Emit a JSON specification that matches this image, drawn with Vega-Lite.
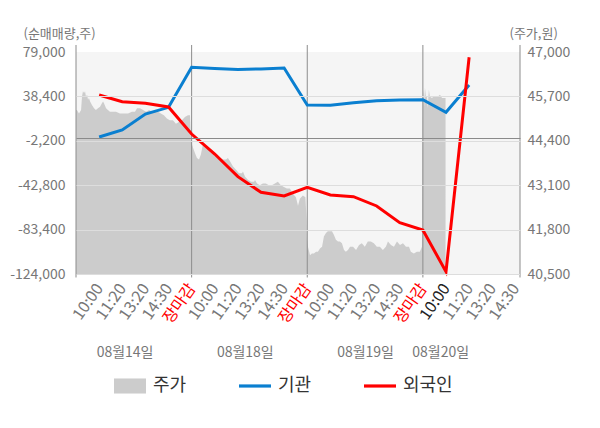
{
  "$schema": "https://vega.github.io/schema/vega-lite/v6.json",
  "width": 444,
  "height": 222,
  "autosize": "none",
  "padding": {"left": 76, "top": 52, "right": 80, "bottom": 154},
  "background": "white",
  "config": {
    "font": "Noto Sans CJK KR",
    "view": {"fill": "#f5f5f5", "stroke": null},
    "axis": {"labelFont": "Noto Sans CJK KR", "titleFont": "Noto Sans CJK KR"},
    "legend": {"labelFont": "Noto Sans CJK KR"}
  },
  "datasets": {
    "price": [
      {"t": 0, "p": 45300}, {"t": 0.04, "p": 45300}, {"t": 0.13, "p": 45200}, {"t": 0.22, "p": 45300},
      {"t": 0.26, "p": 45700}, {"t": 0.30, "p": 45850}, {"t": 0.35, "p": 45800}, {"t": 0.39, "p": 45850},
      {"t": 0.43, "p": 45700}, {"t": 0.48, "p": 45750}, {"t": 0.52, "p": 45600}, {"t": 0.56, "p": 45650},
      {"t": 0.61, "p": 45550}, {"t": 0.69, "p": 45450}, {"t": 0.78, "p": 45350}, {"t": 0.86, "p": 45300},
      {"t": 0.95, "p": 45350}, {"t": 1.04, "p": 45400}, {"t": 1.12, "p": 45500}, {"t": 1.17, "p": 45550},
      {"t": 1.21, "p": 45500}, {"t": 1.30, "p": 45350}, {"t": 1.38, "p": 45300}, {"t": 1.47, "p": 45250},
      {"t": 1.60, "p": 45250}, {"t": 1.73, "p": 45250}, {"t": 1.90, "p": 45200}, {"t": 2.08, "p": 45200},
      {"t": 2.25, "p": 45200}, {"t": 2.42, "p": 45250}, {"t": 2.55, "p": 45250}, {"t": 2.64, "p": 45350},
      {"t": 2.77, "p": 45350}, {"t": 2.90, "p": 45300}, {"t": 3.03, "p": 45250}, {"t": 3.16, "p": 45300},
      {"t": 3.29, "p": 45250}, {"t": 3.42, "p": 45250}, {"t": 3.55, "p": 45250}, {"t": 3.67, "p": 45200},
      {"t": 3.80, "p": 45150}, {"t": 3.93, "p": 45050}, {"t": 4.06, "p": 45000}, {"t": 4.19, "p": 45000},
      {"t": 4.32, "p": 44900}, {"t": 4.45, "p": 44950}, {"t": 4.58, "p": 45000}, {"t": 4.71, "p": 45100},
      {"t": 4.84, "p": 45150}, {"t": 4.93, "p": 45150},
      {"t": 4.97, "p": 44400}, {"t": 5.06, "p": 44200}, {"t": 5.14, "p": 44050}, {"t": 5.23, "p": 43900},
      {"t": 5.32, "p": 43850}, {"t": 5.40, "p": 44000}, {"t": 5.49, "p": 44300}, {"t": 5.58, "p": 44200},
      {"t": 5.71, "p": 44150}, {"t": 5.84, "p": 44100}, {"t": 5.97, "p": 44050}, {"t": 6.10, "p": 44000},
      {"t": 6.23, "p": 43900}, {"t": 6.36, "p": 43850}, {"t": 6.49, "p": 43850}, {"t": 6.57, "p": 43900},
      {"t": 6.66, "p": 43800}, {"t": 6.79, "p": 43650}, {"t": 6.92, "p": 43550}, {"t": 7.05, "p": 43450},
      {"t": 7.18, "p": 43450}, {"t": 7.22, "p": 43500}, {"t": 7.31, "p": 43350}, {"t": 7.44, "p": 43250},
      {"t": 7.57, "p": 43200}, {"t": 7.70, "p": 43200}, {"t": 7.74, "p": 43250}, {"t": 7.83, "p": 43150},
      {"t": 7.95, "p": 43100}, {"t": 8.08, "p": 43150}, {"t": 8.21, "p": 43150}, {"t": 8.34, "p": 43100},
      {"t": 8.47, "p": 43100}, {"t": 8.60, "p": 43150}, {"t": 8.73, "p": 43200}, {"t": 8.86, "p": 43100},
      {"t": 8.99, "p": 43050}, {"t": 9.12, "p": 43000}, {"t": 9.25, "p": 43000}, {"t": 9.38, "p": 42850},
      {"t": 9.51, "p": 42750}, {"t": 9.60, "p": 42500}, {"t": 9.68, "p": 42700}, {"t": 9.81, "p": 42800},
      {"t": 9.92, "p": 42750},
      {"t": 9.97, "p": 42100}, {"t": 9.99, "p": 41500}, {"t": 10.03, "p": 41300}, {"t": 10.12, "p": 41050},
      {"t": 10.20, "p": 41100}, {"t": 10.29, "p": 41100}, {"t": 10.38, "p": 41150}, {"t": 10.46, "p": 41150},
      {"t": 10.55, "p": 41250}, {"t": 10.64, "p": 41300}, {"t": 10.72, "p": 41600}, {"t": 10.81, "p": 41700},
      {"t": 10.89, "p": 41750}, {"t": 10.98, "p": 41750}, {"t": 11.07, "p": 41750}, {"t": 11.15, "p": 41650},
      {"t": 11.24, "p": 41500}, {"t": 11.33, "p": 41450}, {"t": 11.41, "p": 41450}, {"t": 11.50, "p": 41400},
      {"t": 11.59, "p": 41200}, {"t": 11.67, "p": 41150}, {"t": 11.76, "p": 41200}, {"t": 11.85, "p": 41300},
      {"t": 11.98, "p": 41300}, {"t": 12.11, "p": 41200}, {"t": 12.24, "p": 41350}, {"t": 12.36, "p": 41400},
      {"t": 12.49, "p": 41300}, {"t": 12.62, "p": 41450}, {"t": 12.75, "p": 41450}, {"t": 12.88, "p": 41400},
      {"t": 13.01, "p": 41300}, {"t": 13.14, "p": 41300}, {"t": 13.27, "p": 41200}, {"t": 13.40, "p": 41300},
      {"t": 13.49, "p": 41450}, {"t": 13.62, "p": 41350}, {"t": 13.75, "p": 41300}, {"t": 13.88, "p": 41450},
      {"t": 14.01, "p": 41350}, {"t": 14.14, "p": 41400}, {"t": 14.27, "p": 41300}, {"t": 14.40, "p": 41300},
      {"t": 14.48, "p": 41150}, {"t": 14.61, "p": 41100}, {"t": 14.74, "p": 41150}, {"t": 14.87, "p": 41150},
      {"t": 14.96, "p": 41300},
      {"t": 14.99, "p": 45600}, {"t": 15.02, "p": 45900}, {"t": 15.05, "p": 45400}, {"t": 15.09, "p": 45950},
      {"t": 15.13, "p": 45700}, {"t": 15.18, "p": 45700}, {"t": 15.21, "p": 45350}, {"t": 15.24, "p": 45700},
      {"t": 15.26, "p": 45900}, {"t": 15.30, "p": 45700}, {"t": 15.39, "p": 45650}, {"t": 15.48, "p": 45700},
      {"t": 15.56, "p": 45700}, {"t": 15.65, "p": 45700}, {"t": 15.74, "p": 45750}, {"t": 15.83, "p": 45650},
      {"t": 15.91, "p": 45650}, {"t": 15.98, "p": 45650}
    ],
    "flow": [
      {"t": 1, "s": "기관", "v": 1300}, {"t": 2, "s": "기관", "v": 7700}, {"t": 3, "s": "기관", "v": 22300},
      {"t": 4, "s": "기관", "v": 28400}, {"t": 5, "s": "기관", "v": 65000}, {"t": 6, "s": "기관", "v": 63900},
      {"t": 7, "s": "기관", "v": 63000}, {"t": 8, "s": "기관", "v": 63500}, {"t": 9, "s": "기관", "v": 64400},
      {"t": 10, "s": "기관", "v": 30500}, {"t": 11, "s": "기관", "v": 30300}, {"t": 12, "s": "기관", "v": 32600},
      {"t": 13, "s": "기관", "v": 34500}, {"t": 14, "s": "기관", "v": 35100}, {"t": 15, "s": "기관", "v": 35400},
      {"t": 16, "s": "기관", "v": 23900}, {"t": 17, "s": "기관", "v": 48800},
      {"t": 1, "s": "외국인", "v": 39700}, {"t": 2, "s": "외국인", "v": 33600}, {"t": 3, "s": "외국인", "v": 32100},
      {"t": 4, "s": "외국인", "v": 28700}, {"t": 5, "s": "외국인", "v": 4000}, {"t": 6, "s": "외국인", "v": -14300},
      {"t": 7, "s": "외국인", "v": -35000}, {"t": 8, "s": "외국인", "v": -49300}, {"t": 9, "s": "외국인", "v": -52700},
      {"t": 10, "s": "외국인", "v": -44700}, {"t": 11, "s": "외국인", "v": -51800}, {"t": 12, "s": "외국인", "v": -53300},
      {"t": 13, "s": "외국인", "v": -61800}, {"t": 14, "s": "외국인", "v": -77100}, {"t": 15, "s": "외국인", "v": -83800},
      {"t": 16, "s": "외국인", "v": -121900}, {"t": 17, "s": "외국인", "v": 74200}
    ],
    "days": [{"t": 0}, {"t": 5}, {"t": 10}, {"t": 15}, {"t": 19.2}]
  },
  "layer": [
    {
      "data": {"name": "price"},
      "mark": {"type": "area"},
      "encoding": {
        "x": {
          "field": "t",
          "type": "quantitative",
          "scale": {"domain": [0, 19.2], "nice": false, "zero": false},
          "axis": {
            "orient": "bottom",
            "values": [1, 2, 3, 4, 5, 6, 7, 8, 9, 10, 11, 12, 13, 14, 15, 16, 17, 18, 19],
            "labelExpr": "datum.value % 5 === 0 ? '장마감' : ['', '10:00', '11:20', '13:20', '14:30'][datum.value % 5]",
            "labelAngle": -55,
            "labelFontSize": 16,
            "labelColor": {
              "condition": [
                {"test": "datum.value % 5 === 0", "value": "#ff0000"},
                {"test": "datum.value === 16", "value": "#222222"}
              ],
              "value": "#777777"
            },
            "labelPadding": 11,
            "labelOverlap": false,
            "labelFlush": false,
            "labelBound": false,
            "ticks": false,
            "grid": false,
            "domain": true,
            "domainColor": "#999999",
            "title": null
          }
        },
        "y": {
          "field": "p",
          "type": "quantitative",
          "scale": {"domain": [40500, 47000], "nice": false, "zero": false},
          "axis": {
            "orient": "right",
            "values": [47000, 45700, 44400, 43100, 41800, 40500],
            "labelExpr": "format(datum.value, ',')",
            "labelFontSize": 14,
            "labelColor": "#777777",
            "labelPadding": 7,
            "ticks": false,
            "domain": false,
            "grid": false,
            "title": "(주가,원)",
            "titleAngle": 0,
            "titleAlign": "left",
            "titleBaseline": "middle",
            "titleX": -11,
            "titleY": -19,
            "titleFontSize": 13,
            "titleFontWeight": "normal",
            "titleColor": "#777777"
          }
        },
        "y2": {"datum": 40500},
        "color": {
          "datum": "주가",
          "type": "nominal",
          "scale": {"domain": ["주가", "기관", "외국인"], "range": ["#cccccc", "#0a7fd0", "#ff0000"]},
          "legend": {
            "orient": "none",
            "legendX": 38,
            "legendY": 318,
            "direction": "horizontal",
            "columns": 3,
            "columnPadding": 52,
            "padding": 0,
            "title": null,
            "labelFontSize": 18,
            "labelColor": "#333333",
            "labelOffset": 7,
            "symbolSize": 1024,
            "symbolStrokeWidth": 0,
            "symbolType": "M-1,-0.1H1V0.1H-1Z",
            "encode": {
              "symbols": {
                "update": {
                  "shape": {"signal": "datum.value === '주가' ? 'M-1,-0.47H1V0.47H-1Z' : 'M-1,-0.1H1V0.1H-1Z'"},
                  "size": {"value": 1024},
                  "fill": {"scale": "color", "field": "value"},
                  "stroke": {"value": "transparent"},
                  "strokeWidth": {"value": 0},
                  "opacity": {"value": 1}
                }
              }
            }
          }
        }
      }
    },
    {
      "data": {"name": "days"},
      "mark": {"type": "rule", "color": "#8c8c8c", "strokeWidth": 1},
      "encoding": {
        "x": {
          "field": "t",
          "type": "quantitative",
          "axis": {
            "orient": "bottom",
            "values": [2.1, 7.3, 12.5, 15.75],
            "labelExpr": "datum.value < 5 ? '08월14일' : datum.value < 10 ? '08월18일' : datum.value < 15 ? '08월19일' : '08월20일'",
            "labelAngle": 0,
            "labelAlign": "center",
            "labelBaseline": "middle",
            "labelPadding": 78,
            "labelFontSize": 14,
            "labelColor": "#777777",
            "labelOverlap": false,
            "labelFlush": false,
            "labelBound": false,
            "ticks": false,
            "domain": false,
            "grid": false,
            "title": null
          }
        },
        "y": {
          "datum": 47205,
          "type": "quantitative",
          "scale": {"domain": [40500, 47000], "nice": false, "zero": false},
          "axis": null
        },
        "y2": {"datum": 40398}
      }
    },
    {
      "data": {"name": "flow"},
      "mark": {"type": "line", "strokeWidth": 3},
      "encoding": {
        "x": {"field": "t", "type": "quantitative", "axis": null},
        "y": {
          "field": "v",
          "type": "quantitative",
          "scale": {"domain": [-124000, 79000], "nice": false, "zero": false},
          "axis": {
            "values": [79000, 38400, 0, -2200, -42800, -83400, -124000],
            "labelExpr": "datum.value === 0 ? '' : replace(format(datum.value, ','), '\u2212', '-')",
            "labelFontSize": 14,
            "labelColor": "#777777",
            "labelPadding": 11,
            "ticks": false,
            "domain": false,
            "grid": true,
            "gridColor": {
              "condition": [
                {"test": "datum.value === 79000", "value": "transparent"},
                {"test": "datum.value === 0", "value": "#8a8a8a"}
              ],
              "value": "#dddddd"
            },
            "zindex": 1,
            "title": "(순매매량,주)",
            "titleAngle": 0,
            "titleAlign": "left",
            "titleBaseline": "middle",
            "titleX": -53,
            "titleY": -19,
            "titleFontSize": 13,
            "titleFontWeight": "normal",
            "titleColor": "#777777"
          }
        },
        "color": {"field": "s", "type": "nominal", "legend": null}
      }
    }
  ],
  "resolve": {
    "scale": {"y": "independent"},
    "axis": {"x": "independent", "y": "independent"}
  }
}
